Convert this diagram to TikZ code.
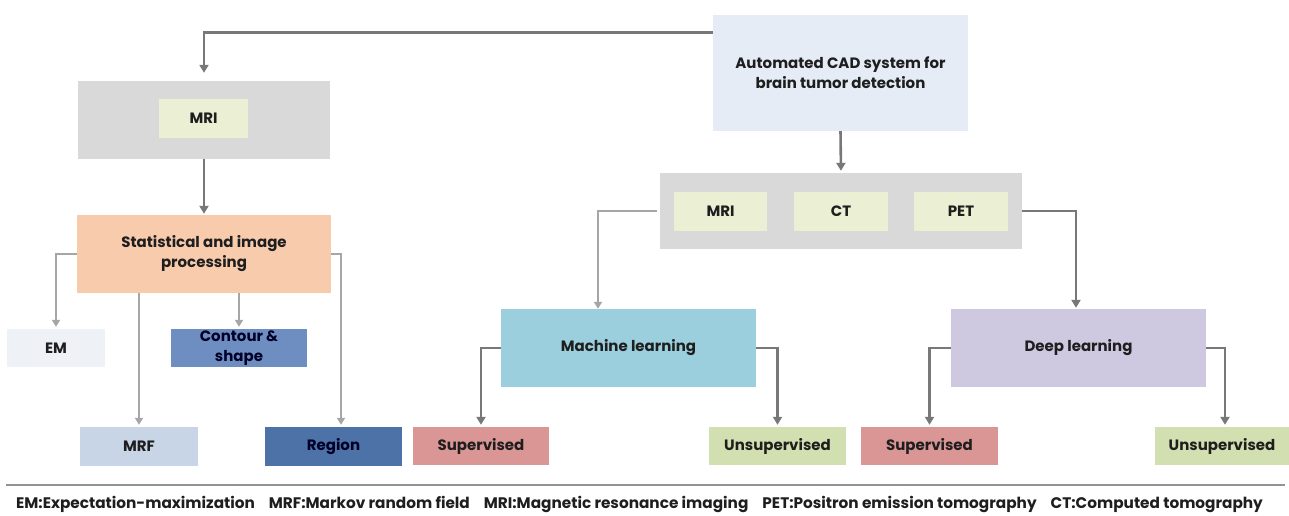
\documentclass[tikz,border=0pt]{standalone}
\usepackage{fontspec}
\setmainfont{Poppins}
\usetikzlibrary{arrows.meta,calc}
\definecolor{txt}{HTML}{1E1E1E}
\definecolor{darkarr}{HTML}{787878}
\definecolor{lightarr}{HTML}{A6A6A6}
\definecolor{cadc}{HTML}{E5ECF6}
\definecolor{grayc}{HTML}{D9D9D9}
\definecolor{modc}{HTML}{EBEFD3}
\definecolor{statc}{HTML}{F8CBAD}
\definecolor{emc}{HTML}{EEF1F5}
\definecolor{contc}{HTML}{6E8EC2}
\definecolor{mrfc}{HTML}{C8D5E7}
\definecolor{regc}{HTML}{4C72A8}
\definecolor{mlc}{HTML}{9BCFDE}
\definecolor{dlc}{HTML}{CEC9E0}
\definecolor{supc}{HTML}{DA9694}
\definecolor{unsc}{HTML}{D2DFB0}
\tikzset{
  box/.style={rectangle, inner sep=0pt, align=center, text=txt, font=\fontsize{15}{20}\selectfont\bfseries},
  darrow/.style={draw=darkarr, line width=2.6pt, -{Triangle[width=9pt,length=8pt]}},
  larrow/.style={draw=lightarr, line width=2.2pt, -{Triangle[width=8pt,length=7pt]}},
}
\begin{document}
\begin{tikzpicture}[x=1pt,y=-1pt]
\useasboundingbox (0,0) rectangle (1289,516);
\fill[white] (0,0) rectangle (1289,516);
% top
\node[box, fill=cadc, minimum width=255pt, minimum height=116pt] (cad) at (840.5,73) {Automated CAD system for\\brain tumor detection};
% left branch
\node[box, fill=grayc, minimum width=252pt, minimum height=78pt] (lgray) at (204,120) {};
\node[box, fill=modc, minimum width=89pt, minimum height=39pt] (lmri) at (203.5,118.5) {MRI};
\node[box, fill=statc, minimum width=254pt, minimum height=78pt] (stat) at (204,254) {Statistical and image\\processing};
\node[box, fill=emc, minimum width=98pt, minimum height=38pt] (em) at (56,348) {EM};
\node[box, fill=contc, minimum width=136pt, minimum height=38pt, text=black!85!blue] (cont) at (239,348) {Contour \&\\[0pt]shape};
\node[box, fill=mrfc, minimum width=118pt, minimum height=39pt] (mrf) at (139,446.5) {MRF};
\node[box, fill=regc, minimum width=137pt, minimum height=39pt, text=black!85!blue] (reg) at (333.5,446.5) {Region};
% right branch
\node[box, fill=grayc, minimum width=362pt, minimum height=76pt] (rgray) at (841,211) {};
\node[box, fill=modc, minimum width=93pt, minimum height=39pt] (rmri) at (720.5,211.5) {MRI};
\node[box, fill=modc, minimum width=94pt, minimum height=39pt] (ct) at (841,211.5) {CT};
\node[box, fill=modc, minimum width=94pt, minimum height=39pt] (pet) at (961,211.5) {PET};
\node[box, fill=mlc, minimum width=255pt, minimum height=78pt] (ml) at (628.5,348) {Machine learning};
\node[box, fill=dlc, minimum width=255pt, minimum height=78pt] (dl) at (1078.5,348) {Deep learning};
\node[box, fill=supc, minimum width=136pt, minimum height=38pt] (sup1) at (481,446) {Supervised};
\node[box, fill=unsc, minimum width=137pt, minimum height=38pt] (uns1) at (777.5,446) {Unsupervised};
\node[box, fill=supc, minimum width=137pt, minimum height=38pt] (sup2) at (929.5,446) {Supervised};
\node[box, fill=unsc, minimum width=134pt, minimum height=38pt] (uns2) at (1222,446) {Unsupervised};
% connectors
\draw[darrow, shorten >=8pt] ([yshift=-18pt]cad.north west) -| (lgray.north);
\draw[darrow, shorten >=1pt] (lgray.south) -- (stat.north);
\draw[larrow, shorten >=2pt] (stat.west) -| (em.north);
\draw[larrow, shorten >=2pt] (stat.south -| mrf.north) -- (mrf.north);
\draw[larrow, shorten >=2pt] (stat.south -| cont.north) -- (cont.north);
\draw[larrow, shorten >=2pt] (stat.east) -| ([xshift=7.5pt]reg.north);
\draw[darrow, shorten >=2pt] (cad.south) -- (rgray.north);
\draw[larrow, shorten >=0pt] ([xshift=-3pt]rgray.west) -| ([xshift=-30.5pt]ml.north);
\draw[darrow, shorten >=1pt] (rgray.east) -| ([xshift=-2.5pt]dl.north);
\draw[darrow, shorten >=2pt] (ml.west) -| (sup1.north);
\draw[darrow, shorten >=2pt] (ml.east) -| (uns1.north);
\draw[darrow, shorten >=2pt] (dl.west) -| (sup2.north);
\draw[darrow, shorten >=2pt] (dl.east) -| ([xshift=3pt]uns2.north);
% legend
\coordinate (sepL) at (6,485);
\coordinate (sepR) at (1285,485);
\draw[draw=darkarr!80, line width=2pt] (sepL) -- (sepR);
\node[text=txt, font=\fontsize{15.3}{17}\selectfont\bfseries, inner sep=0pt] (legend) at (639.5,504) {EM:Expectation-maximization\hspace{14pt}MRF:Markov random field\hspace{14pt}MRI:Magnetic resonance imaging\hspace{14pt}PET:Positron emission tomography\hspace{14pt}CT:Computed tomography};
\end{tikzpicture}
\end{document}
